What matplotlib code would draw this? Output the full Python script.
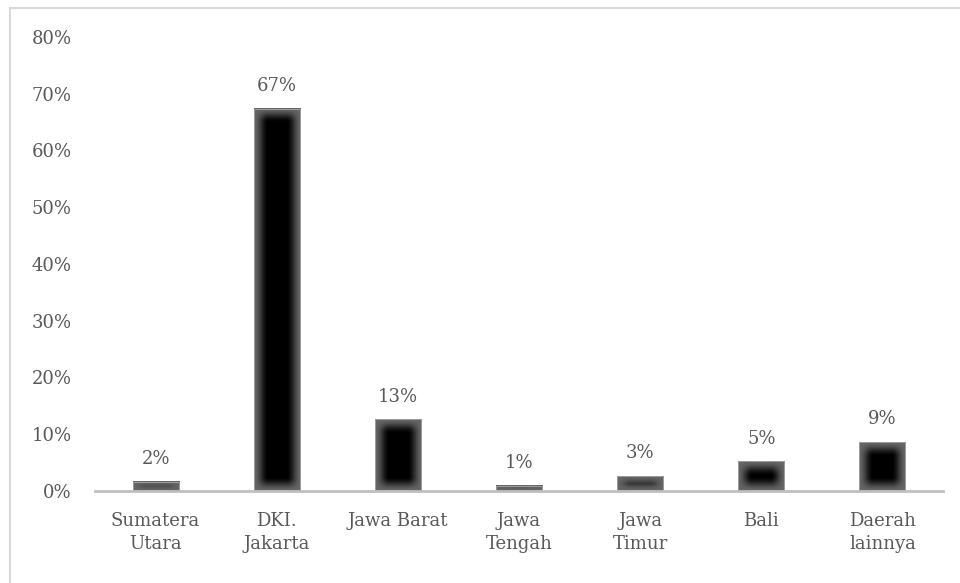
import numpy as np
import matplotlib.pyplot as plt
from matplotlib.lines import Line2D

categories = ['Sumatera\nUtara', 'DKI.\nJakarta', 'Jawa Barat', 'Jawa\nTengah',
              'Jawa\nTimur', 'Bali', 'Daerah\nlainnya']
values = [1.6, 67.4, 12.6, 0.9, 2.6, 5.2, 8.6]
labels = ['2%', '67%', '13%', '1%', '3%', '5%', '9%']

plt.rcParams['font.family'] = ['DejaVu Serif']
txt = '#595959'

fig = plt.figure(figsize=(9.6, 5.83), dpi=100)
ax = fig.add_axes([95/960, 1-491/583, 848/960, (491-37)/583])
ax.set_xlim(-0.5, len(categories)-0.5)
ax.set_ylim(0, 80)

x = np.arange(len(categories))
bars = ax.bar(x, values, width=0.38, color='none', edgecolor='#a6a6a6', linewidth=0.6, zorder=3)


def smooth(u):
    u = np.clip(u, 0, 1)
    return u*u*(3-2*u)


# gradient fill (gray edges -> black centre)
fig.canvas.draw()
for b in bars:
    x0, y0, w, h = b.get_x(), b.get_y(), b.get_width(), b.get_height()
    p0 = ax.transData.transform((x0, y0))
    p1 = ax.transData.transform((x0+w, y0+h))
    wp = max(int(abs(p1[0]-p0[0])), 2)
    hp = max(int(abs(p1[1]-p0[1])), 2)
    xx = np.arange(wp) + 0.5
    yy = np.arange(hp) + 0.5
    X, Y = np.meshgrid(xx, yy)
    dx = np.minimum(X, wp-X)
    dy = np.minimum(Y, hp-Y)
    t = smooth(dx/14.0) * smooth(dy/14.0)
    img = 0.40*(1-t)
    ax.imshow(img, cmap='gray', vmin=0, vmax=1, extent=(x0, x0+w, y0, y0+h),
              aspect='auto', interpolation='bilinear', zorder=2)

for xi, v, lab in zip(x, values, labels):
    ax.annotate(lab, (xi, v), xytext=(0, 10), textcoords='offset points',
                ha='center', va='bottom', fontsize=13, color=txt)

ax.set_xlim(-0.5, len(categories)-0.5)
ax.set_ylim(0, 80)
ax.set_yticks(range(0, 81, 10))
ax.set_yticklabels([f'{v}%' for v in range(0, 81, 10)])
ax.set_xticks(x)
ax.set_xticklabels(categories, linespacing=1.35)
ax.tick_params(axis='both', length=0, labelsize=13, labelcolor=txt)
ax.tick_params(axis='y', pad=17)
ax.tick_params(axis='x', pad=15)
for s in ['top', 'right', 'left']:
    ax.spines[s].set_visible(False)
ax.spines['bottom'].set_color('#bfbfbf')
ax.spines['bottom'].set_linewidth(2)
ax.spines['bottom'].set_zorder(4)

# outer frame (top and left visible)
fig.add_artist(Line2D([10/960, 1], [1-8/583, 1-8/583], color='#d9d9d9', lw=1.5))
fig.add_artist(Line2D([10/960, 10/960], [0, 1-8/583], color='#d9d9d9', lw=1.5))

fig.savefig('out.png', dpi=100)
